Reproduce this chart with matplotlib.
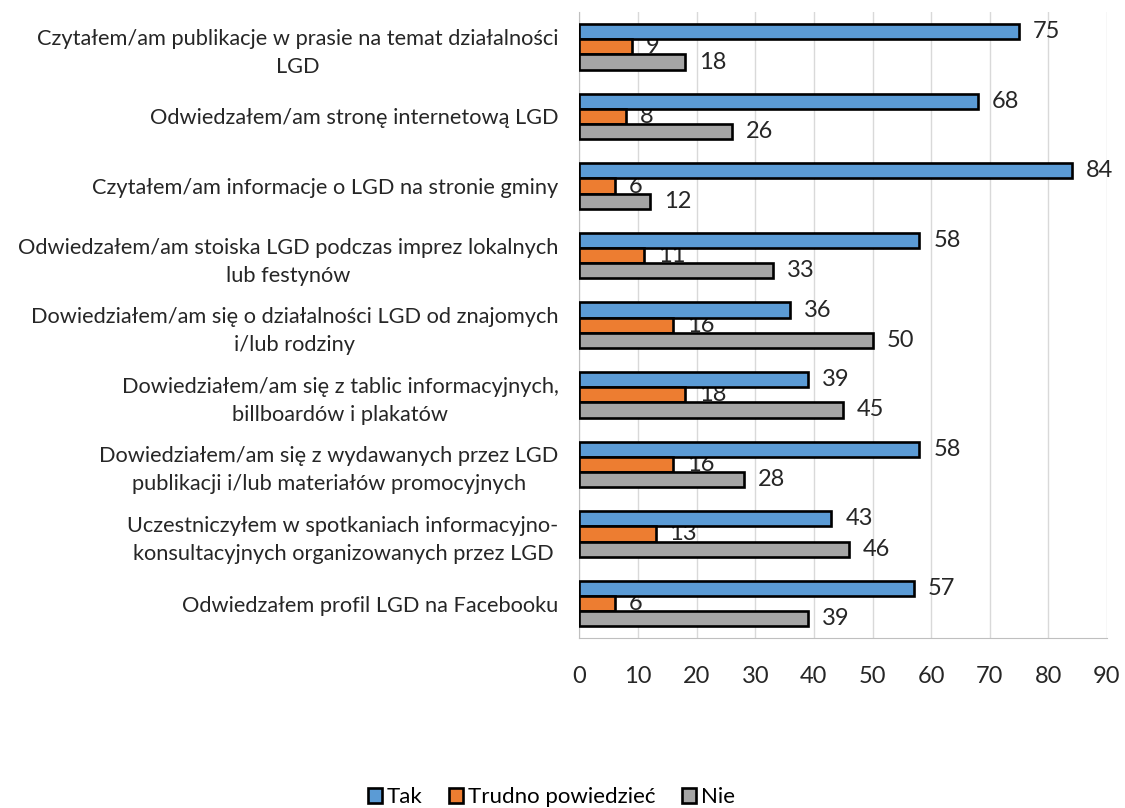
import matplotlib.pyplot as plt
import numpy as np

plt.rcParams['font.family'] = ['Lato', 'DejaVu Sans']

categories = [
    "Czytałem/am publikacje w prasie na temat działalności\nLGD",
    "Odwiedzałem/am stronę internetową LGD",
    "Czytałem/am informacje o LGD na stronie gminy",
    "Odwiedzałem/am stoiska LGD podczas imprez lokalnych\nlub festynów",
    "Dowiedziałem/am się o działalności LGD od znajomych\ni/lub rodziny",
    "Dowiedziałem/am się z tablic informacyjnych,\nbillboardów i plakatów",
    "Dowiedziałem/am się z wydawanych przez LGD\npublikacji i/lub materiałów promocyjnych",
    "Uczestniczyłem w spotkaniach informacyjno-\nkonsultacyjnych organizowanych przez LGD",
    "Odwiedzałem profil LGD na Facebooku",
]
tak = [75, 68, 84, 58, 36, 39, 58, 43, 57]
trudno = [9, 8, 6, 11, 16, 18, 16, 13, 6]
nie = [18, 26, 12, 33, 50, 45, 28, 46, 39]

series = [("Tak", tak, "#5B9BD5"),
          ("Trudno powiedzieć", trudno, "#ED7D31"),
          ("Nie", nie, "#A5A5A5")]

fig = plt.figure(figsize=(11.25, 8.08), dpi=100)
ax = fig.add_axes([0.515, 0.21, 0.469, 0.775])

y = np.arange(len(categories))
h = 0.218
for k, (name, vals, col) in enumerate(series):
    pos = y + (k - 1) * h
    ax.barh(pos, vals, height=h, color=col, edgecolor="black", linewidth=1.9,
            label=name, zorder=3)
    for p, v in zip(pos, vals):
        ax.annotate(str(v), (v, p), xytext=(10, 0), textcoords="offset points",
                    va="center", ha="left", fontsize=17, color="#262626", zorder=2)

ax.set_ylim(len(categories) - 0.5, -0.5)
ax.set_xlim(0, 90)
ax.set_xticks(range(0, 91, 10))
ax.set_yticks(y)
ax.set_yticklabels(categories, fontsize=15.7, color="#262626",
                   multialignment="center", linespacing=1.5)
ax.tick_params(axis="x", labelsize=17, colors="#262626", length=0, pad=20)
ax.tick_params(axis="y", length=0, pad=15)
ax.grid(axis="x", color="#D9D9D9", linewidth=1, zorder=0)
for s in ["top", "right"]:
    ax.spines[s].set_visible(False)
for s in ["left", "bottom"]:
    ax.spines[s].set_color("#BFBFBF")

fig.legend(loc="center", bbox_to_anchor=(0.49, 0.013), ncol=3, frameon=False,
           fontsize=16, handlelength=0.65, handleheight=0.65, handletextpad=0.2,
           columnspacing=1.2)

fig.savefig("out.png", dpi=100)
